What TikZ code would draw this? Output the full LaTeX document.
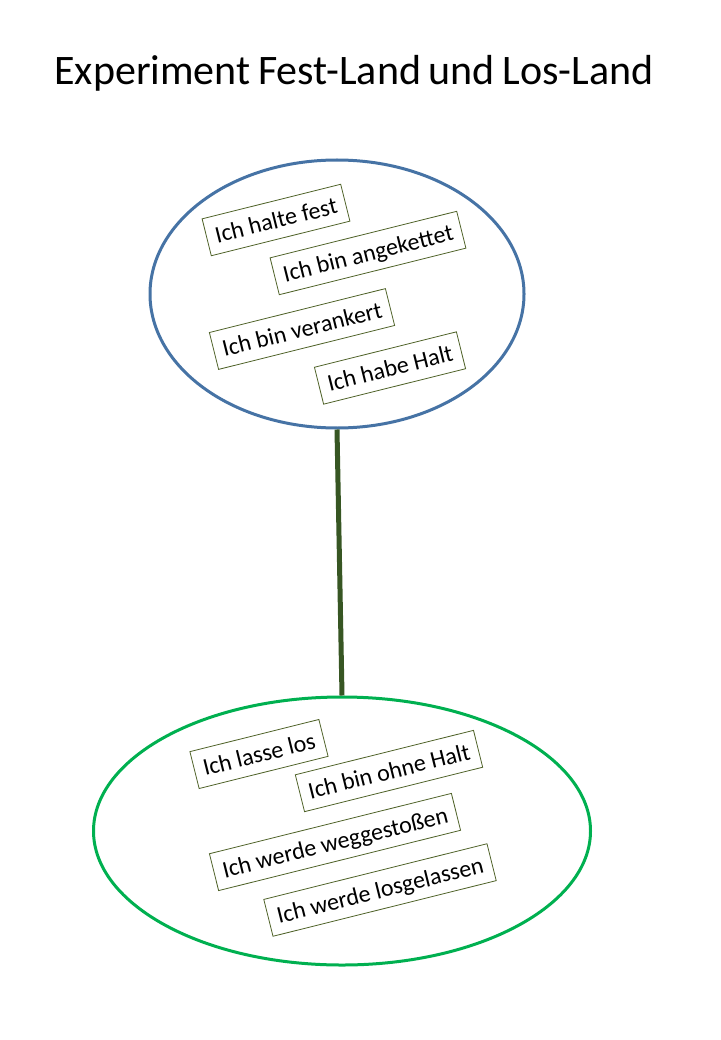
\documentclass[tikz,border=0pt]{standalone}
\usepackage{fontspec}
\setmainfont{Carlito}
\usetikzlibrary{shapes.geometric}
\definecolor{ellblue}{RGB}{70,115,165}
\definecolor{ellgreen}{RGB}{0,176,80}
\definecolor{linkgreen}{RGB}{55,86,35}
\definecolor{boxline}{RGB}{79,98,40}
\tikzset{
  land/.style={ellipse, draw, line width=3pt, inner sep=0pt, fill=white},
  phrase/.style={draw=boxline, line width=0.8pt, fill=white, rotate=14,
    font=\fontsize{24}{28}\selectfont, inner xsep=9pt, minimum height=38pt, text depth=0pt, anchor=center},
}
\begin{document}
\begin{tikzpicture}[x=1pt,y=-1pt]
\useasboundingbox (0,0) rectangle (720,1040);
\node[font=\fontsize{42}{50}\selectfont, anchor=base] (title) at (354,85) {\spaceskip=0.18em\relax Experiment Fest-Land und Los-Land};
\node[land, draw=ellblue, minimum width=374pt, minimum height=268pt] (fest) at (337,294) {};
\node[land, draw=ellgreen, minimum width=497pt, minimum height=268pt] (los) at (342,831) {};
\draw[linkgreen, line width=5pt] (fest.south) -- (los.north);
\node[phrase] (f1) at (276,220) {Ich halte fest};
\node[phrase] (f2) at (368,253) {Ich bin angekettet};
\node[phrase] (f3) at (302,329) {Ich bin verankert};
\node[phrase] (f4) at (390,368) {Ich habe Halt};
\node[phrase] (l1) at (259,754) {Ich lasse los};
\node[phrase] (l2) at (389,771) {Ich bin ohne Halt};
\node[phrase] (l3) at (335,842) {Ich werde weggestoßen};
\node[phrase] (l4) at (380,890) {Ich werde losgelassen};
\end{tikzpicture}
\end{document}
